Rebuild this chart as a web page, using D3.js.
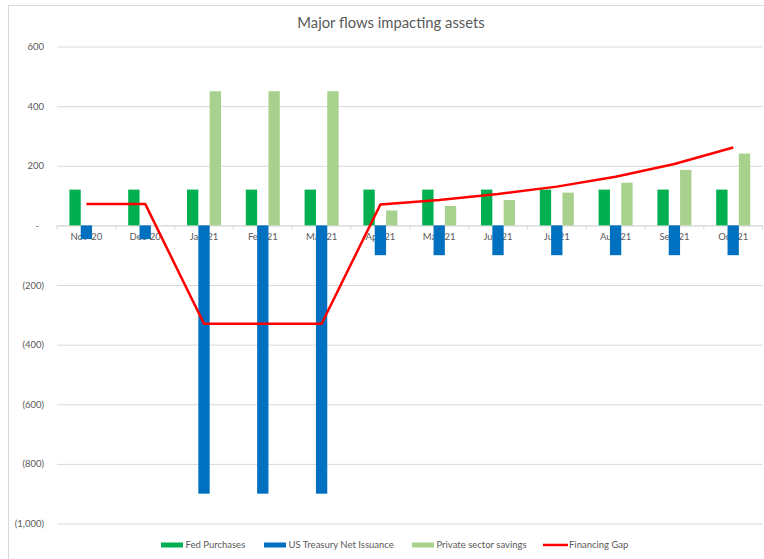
<!DOCTYPE html>
<html>
<head>
<meta charset="utf-8">
<script src="https://cdn.jsdelivr.net/npm/d3@7"></script>
<style>
  body { margin: 0; background: #fff; }
  svg { display: block; font-family: Lato, "Open Sans", sans-serif; }
</style>
</head>
<body>
<div id="chart"></div>
<script>
// data
const months = ['Nov-20', 'Dec-20', 'Jan-21', 'Feb-21', 'Mar-21', 'Apr-21', 'May-21', 'Jun-21', 'Jul-21', 'Aug-21', 'Sep-21', 'Oct-21'];
const fedPurchases = [120, 120, 120, 120, 120, 120, 120, 120, 120, 120, 120, 120];
const treasuryIssuance = [-46, -46, -900, -900, -900, -100, -100, -100, -100, -100, -100, -100];
const privateSavings = [0, 0, 450, 450, 450, 50, 65, 85, 110, 143, 186, 241];
const financingGap = [72, 72, -330, -330, -330, 70, 85, 105, 130, 163, 206, 261];
const yTicks = [600, 400, 200, 0, -200, -400, -600, -800, -1000];

const seriesNames = ['Fed Purchases', 'US Treasury Net Issuance', 'Private sector savings'];
const seriesColors = ['#00b050', '#0070c0', '#a9d18e'];
const lineColor = '#ff0000';

const width = 764, height = 559;
const plot = { left: 57, right: 762.6, top: 46.5, bottom: 523.5 };

const svg = d3.select('#chart').append('svg')
  .attr('width', width)
  .attr('height', height);

// chart frame (right and bottom edges fall outside the picture)
svg.append('rect')
  .attr('x', 8.5).attr('y', 5.5)
  .attr('width', 770).attr('height', 570)
  .attr('fill', 'none')
  .attr('stroke', '#d9d9d9');

svg.append('text')
  .attr('x', 391).attr('y', 28)
  .attr('text-anchor', 'middle')
  .attr('font-size', 14.8)
  .attr('fill', '#595959')
  .text('Major flows impacting assets');

const x = d3.scaleBand().domain(months).range([plot.left, plot.right]).padding(0);
const y = d3.scaleLinear().domain([-1000, 600]).range([plot.bottom, plot.top]);

const groupWidth = 34;
const x1 = d3.scaleBand().domain(d3.range(3)).range([0, groupWidth]).padding(0);

// y axis + gridlines
const fmt = d3.format(',');
const yAxis = d3.axisLeft(y)
  .tickValues(yTicks)
  .tickSize(-(plot.right - plot.left))
  .tickPadding(13)
  .tickFormat(d => d === 0 ? '-' : d < 0 ? '(' + fmt(-d) + ')' : fmt(d));

const gy = svg.append('g')
  .attr('transform', 'translate(' + plot.left + ',0)')
  .call(yAxis);
gy.select('.domain').remove();
gy.selectAll('.tick line').attr('stroke', '#d9d9d9');
gy.selectAll('.tick text')
  .attr('fill', '#595959')
  .attr('font-size', 9.5)
  .attr('font-family', 'Lato, "Open Sans", sans-serif');
gy.selectAll('.tick').filter(d => d === 0).select('text').attr('dx', -5);

// x axis at zero: labels drawn under the bars
const xAxis = d3.axisBottom(x).tickSize(0).tickPadding(8);
const gx = svg.append('g')
  .attr('transform', 'translate(0,' + y(0) + ')')
  .call(xAxis);
gx.select('.domain').attr('stroke', '#d9d9d9');
gx.selectAll('.tick text')
  .attr('fill', '#595959')
  .attr('font-size', 9.5)
  .attr('font-family', 'Lato, "Open Sans", sans-serif');

// category boundary ticks
gx.selectAll('.bound')
  .data(months.concat(['end']))
  .enter()
  .append('line')
  .attr('class', 'bound')
  .attr('x1', (d, i) => plot.left + i * x.bandwidth())
  .attr('x2', (d, i) => plot.left + i * x.bandwidth())
  .attr('y1', 0).attr('y2', 4)
  .attr('stroke', '#d9d9d9');

// bars
const allSeries = [fedPurchases, treasuryIssuance, privateSavings];
allSeries.forEach((vals, s) => {
  svg.append('g')
    .selectAll('rect')
    .data(vals)
    .enter()
    .append('rect')
    .attr('x', (d, i) => x(months[i]) + (x.bandwidth() - groupWidth) / 2 + x1(s))
    .attr('width', x1.bandwidth())
    .attr('y', d => y(Math.max(0, d)))
    .attr('height', d => Math.abs(y(d) - y(0)))
    .attr('fill', seriesColors[s]);
});

// financing gap line
const line = d3.line()
  .x((d, i) => x(months[i]) + x.bandwidth() / 2)
  .y(d => y(d));

svg.append('path')
  .datum(financingGap)
  .attr('d', line)
  .attr('fill', 'none')
  .attr('stroke', lineColor)
  .attr('stroke-width', 2.5)
  .attr('stroke-linejoin', 'round');

// legend
const legendItems = [
  { name: seriesNames[0], color: seriesColors[0], x: 161, type: 'rect' },
  { name: seriesNames[1], color: seriesColors[1], x: 264, type: 'rect' },
  { name: seriesNames[2], color: seriesColors[2], x: 412, type: 'rect' },
  { name: 'Financing Gap', color: lineColor, x: 543, type: 'line' }
];
const ly = 545;
const lg = svg.append('g');
legendItems.forEach(item => {
  if (item.type === 'rect') {
    lg.append('rect')
      .attr('x', item.x).attr('y', ly - 2.5)
      .attr('width', 22).attr('height', 5)
      .attr('fill', item.color);
  } else {
    lg.append('line')
      .attr('x1', item.x).attr('x2', item.x + 25)
      .attr('y1', ly).attr('y2', ly)
      .attr('stroke', item.color)
      .attr('stroke-width', 2.5);
  }
  lg.append('text')
    .attr('x', item.x + (item.type === 'rect' ? 24.5 : 26))
    .attr('y', ly + 3.3)
    .attr('font-size', 9.5)
    .attr('fill', '#595959')
    .text(item.name);
});
</script>
</body>
</html>
